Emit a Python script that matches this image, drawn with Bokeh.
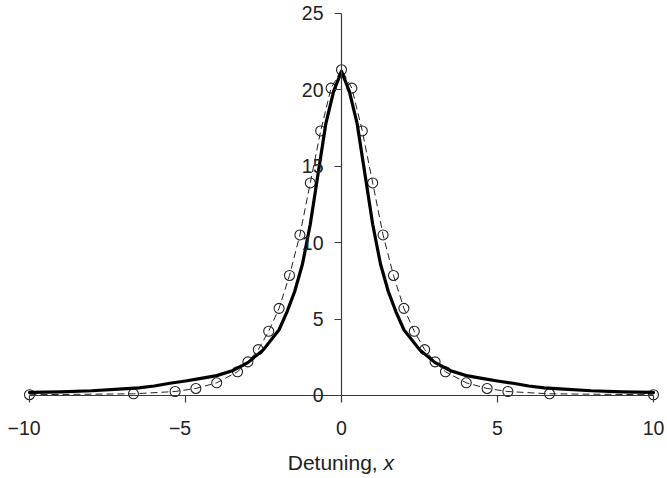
from bokeh.plotting import figure
from bokeh.models import LinearAxis, FixedTicker, Label, Range1d
from bokeh.embed import file_html
from bokeh.resources import INLINE

# Measured profile (open circles joined by a dashed line)
meas_x = [-10.0, -6.667, -5.333, -4.667, -4.0, -3.333, -3.0, -2.667, -2.333, -2.0,
          -1.667, -1.333, -1.0, -0.667, -0.333, 0.0, 0.333, 0.667, 1.0, 1.333,
          1.667, 2.0, 2.333, 2.667, 3.0, 3.333, 4.0, 4.667, 5.333, 6.667, 10.0]
meas_y = [0.05, 0.11, 0.26, 0.46, 0.83, 1.55, 2.2, 3.0, 4.2, 5.7,
          7.85, 10.5, 13.9, 17.3, 20.1, 21.3, 20.1, 17.3, 13.9, 10.5,
          7.85, 5.7, 4.2, 3.0, 2.2, 1.55, 0.83, 0.46, 0.26, 0.11, 0.05]

# Computed line shape (thick solid curve)
calc_x = [-10.0, -9.0, -8.0, -7.0, -6.5, -6.0, -5.5, -5.0, -4.5, -4.0, -3.5, -3.0,
          -2.5, -2.0, -1.75, -1.5, -1.25, -1.0, -0.75, -0.5, -0.25, 0.0,
          0.25, 0.5, 0.75, 1.0, 1.25, 1.5, 1.75, 2.0, 2.5, 3.0, 3.5, 4.0,
          4.5, 5.0, 5.5, 6.0, 6.5, 7.0, 8.0, 9.0, 10.0]
calc_y = [0.2, 0.24, 0.31, 0.43, 0.5, 0.62, 0.8, 0.95, 1.12, 1.3, 1.62, 2.15,
          3.0, 4.3, 5.45, 6.8, 8.6, 11.2, 14.5, 17.8, 19.9, 21.2,
          19.9, 17.8, 14.5, 11.2, 8.6, 6.8, 5.45, 4.3, 3.0, 2.15, 1.62, 1.3,
          1.12, 0.95, 0.8, 0.62, 0.5, 0.43, 0.31, 0.24, 0.2]

# Negative labels carry a trailing figure space so the digits sit on the tick
x_ticks = [-10, -5, 0, 5, 10]
x_tick_labels = {-10: "\u221210\u2007", -5: "\u22125\u2007", 0: "0", 5: "5", 10: "10"}
y_ticks = [0, 5, 10, 15, 20, 25]

FONT = "Liberation Sans"
AXIS_COLOR = "#3a3a3a"
TEXT_COLOR = "#222222"

p = figure(width=667, height=478, title=None,
           x_range=Range1d(-10.929, 10.449), y_range=Range1d(-5.428, 25.83),
           x_axis_location=None, y_axis_location=None,
           toolbar_location=None, output_backend="svg", min_border=0)
p.outline_line_color = None
p.grid.visible = False
p.background_fill_color = "white"
p.border_fill_color = "white"

# Axes crossing at the origin
xaxis = LinearAxis(fixed_location=0, bounds=(-10, 10),
                   ticker=FixedTicker(ticks=x_ticks),
                   major_label_overrides=x_tick_labels)
yaxis = LinearAxis(fixed_location=0, bounds=(0, 25),
                   ticker=FixedTicker(ticks=y_ticks))
for ax in (xaxis, yaxis):
    ax.axis_line_color = AXIS_COLOR
    ax.axis_line_width = 1.2
    ax.major_tick_line_color = AXIS_COLOR
    ax.major_tick_line_width = 1.2
    ax.major_tick_in = 0
    ax.major_tick_out = 7
    ax.minor_tick_line_color = None
    ax.major_label_text_font = FONT
    ax.major_label_text_font_size = "19.5px"
    ax.major_label_text_color = TEXT_COLOR
xaxis.major_label_standoff = 15
yaxis.major_label_standoff = 11
p.add_layout(xaxis, "below")
p.add_layout(yaxis, "left")

# Measured points
p.line(meas_x, meas_y, line_color="#222222", line_width=1, line_dash="7 4")
p.scatter(meas_x, meas_y, marker="circle", size=10, fill_color=None,
          line_color="#222222", line_width=1.1)

# Calculated curve
p.line(calc_x, calc_y, line_color="black", line_width=3.2,
       line_join="round", line_cap="round")

# Axis title: "Detuning, " with an italic x
p.add_layout(Label(x=0, y=-3.66, x_offset=42, text="Detuning, ",
                   text_align="right", text_baseline="top",
                   text_font=FONT, text_font_size="21px", text_color=TEXT_COLOR))
p.add_layout(Label(x=0, y=-3.66, x_offset=42, text="x",
                   text_align="left", text_baseline="top",
                   text_font=FONT, text_font_size="21px", text_font_style="italic",
                   text_color=TEXT_COLOR))

open("out.html", "w").write(file_html(p, INLINE))
